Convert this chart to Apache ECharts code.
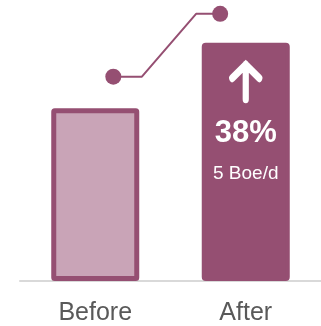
<!DOCTYPE html>
<html>
<head>
<meta charset="utf-8">
<script src="https://cdn.jsdelivr.net/npm/echarts@6/dist/echarts.min.js"></script>
<style>html,body{margin:0;padding:0;background:#fff}#c{width:321px;height:326px}</style>
</head>
<body>
<div id="c"></div>
<script>
// Data
var categories = ['Before', 'After'];
var values = [13.2, 18.2];              // Boe/d
var unit = 'Boe/d';
// Connector line (value-x coordinates across the two category bands, y in Boe/d)
var connectorX = [0.62, 0.81, 1.17, 1.33];
var connectorY = [15.6, 15.6, 20.4, 20.4];
var arrowValue = 15.2;

var DARK = '#954F72';
var LIGHT = '#c9a4b7';

var diff = values[1] - values[0];
var pct = Math.round(diff / values[0] * 100);

var chart = echarts.init(document.getElementById('c'), null, {renderer: 'canvas'});
chart.setOption({
  animation: false,
  grid: {left: 20, right: 0, top: 6, bottom: 43, containLabel: false},
  xAxis: [{
    type: 'category',
    data: categories,
    axisLine: {show: true, lineStyle: {color: '#d9d9d9', width: 2}},
    axisTick: {show: false},
    axisLabel: {color: '#595959', fontSize: 25, fontFamily: 'Liberation Sans, Arial, sans-serif', margin: 20}
  }, {
    type: 'value', min: 0, max: 2, show: false
  }],
  yAxis: {type: 'value', min: 0, max: 21, show: false, splitLine: {show: false}},
  series: [{
    type: 'bar',
    barWidth: 88,
    z: 2,
    data: [
      {value: values[0], itemStyle: {color: LIGHT, borderColor: DARK, borderWidth: 5, borderRadius: 1}},
      {value: values[1], itemStyle: {color: DARK, borderColor: DARK, borderWidth: 4, borderRadius: 2},
       label: {
         show: true, position: 'insideTop', distance: 71,
         formatter: '{a|' + pct + '%}\n{b|' + Math.round(diff) + ' ' + unit + '}',
         rich: {
           a: {color: '#fff', fontSize: 31, fontWeight: 'bold', fontFamily: 'Liberation Sans, Arial, sans-serif', lineHeight: 40},
           b: {color: '#fff', fontSize: 19, fontFamily: 'Liberation Sans, Arial, sans-serif', lineHeight: 40}
         }
       }}
    ]
  }, {
    type: 'line',
    xAxisIndex: 1,
    clip: false,
    z: 3,
    data: connectorX.map(function (x, i) { return [x, connectorY[i]]; }),
    lineStyle: {color: DARK, width: 2},
    itemStyle: {color: DARK},
    symbol: 'circle',
    symbolSize: function (v, p) { return (p.dataIndex === 0 || p.dataIndex === connectorX.length - 1) ? 16 : 0; },
    showSymbol: true
  }, {
    type: 'scatter',
    z: 4,
    data: [['After', arrowValue]],
    symbol: 'path://M233.5,79.5 L247,66 L260.5,79.5 M247,66 L247,100.5',
    symbolSize: [27, 34.5],
    itemStyle: {color: 'rgba(0,0,0,0)', borderColor: '#fff', borderWidth: 7, borderCap: 'round', borderJoin: 'miter', opacity: 1}
  }]
});
</script>
</body>
</html>
